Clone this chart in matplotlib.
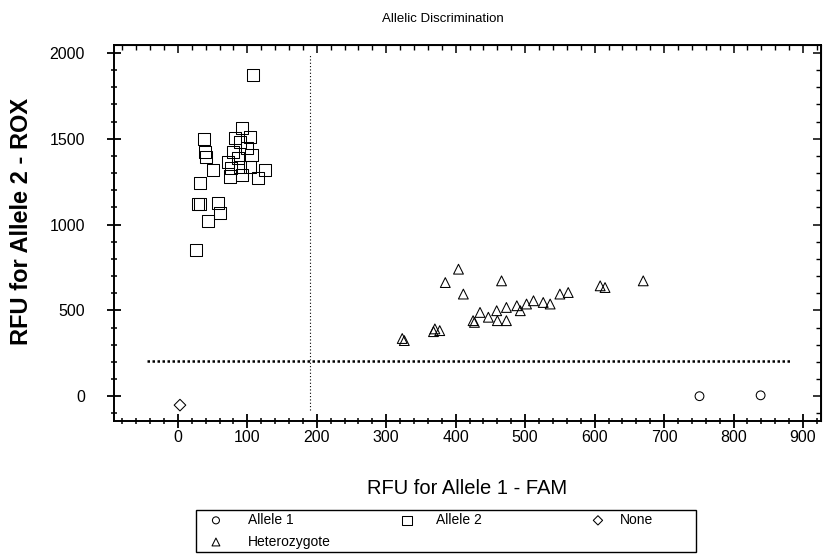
import matplotlib
matplotlib.use("Agg")
import matplotlib.pyplot as plt
from matplotlib.ticker import MultipleLocator
from matplotlib.patches import Rectangle

plt.rcParams['font.family'] = ['Liberation Sans', 'DejaVu Sans']

# Allele 1 (circles)
a1_x = [751, 839]
a1_y = [0, 5]

# Allele 2 (squares)
a2_x = [108, 93, 37, 104, 39, 82, 89, 80, 99, 106, 41, 72, 87, 51, 77, 89,
        104, 125, 75, 92, 116, 32, 32, 58, 60, 44, 26, 29]
a2_y = [1873, 1564, 1497, 1512, 1425, 1502, 1483, 1425, 1444, 1406, 1396,
        1367, 1386, 1319, 1328, 1338, 1338, 1319, 1280, 1290, 1271, 1242,
        1117, 1126, 1068, 1020, 852, 1117]

# None (diamond)
none_x = [3]
none_y = [-52]

# Heterozygote (triangles)
het_x = [326, 323, 370, 377, 368, 404, 385, 411, 466, 425, 435, 447, 459,
         473, 488, 493, 512, 526, 536, 550, 562, 608, 615, 670, 473, 460,
         427, 502]
het_y = [324, 336, 392, 382, 376, 740, 662, 595, 672, 440, 488, 460, 498,
         517, 527, 498, 556, 546, 537, 595, 604, 643, 633, 672, 440, 440,
         430, 537]

threshold_y = 205
threshold_x = [-45, 882]
cut_x = 190
cut_y = [-80, 1995]

fig = plt.figure(figsize=(8.26, 5.58), dpi=100)
ax = fig.add_axes([0.138, 0.246, 0.856, 0.673])

mk = dict(facecolor='none', edgecolor='black', linewidth=0.75)
p_a1 = ax.scatter(a1_x, a1_y, marker='o', s=40, **mk)
p_het = ax.scatter(het_x, het_y, marker='^', s=50, **mk)
p_a2 = ax.scatter(a2_x, a2_y, marker='s', s=75, **mk)
p_none = ax.scatter(none_x, none_y, marker='D', s=35, **mk)

ax.plot(threshold_x, [threshold_y, threshold_y], color='black',
        linestyle=(0, (1, 1)), linewidth=1.8)
ax.plot([cut_x, cut_x], cut_y, color='black', linestyle=(0, (1, 2)),
        linewidth=0.8)

ax.set_xlim(-92, 926)
ax.set_ylim(-143, 2045)
ax.xaxis.set_major_locator(MultipleLocator(100))
ax.xaxis.set_minor_locator(MultipleLocator(20))
ax.yaxis.set_major_locator(MultipleLocator(500))
ax.yaxis.set_minor_locator(MultipleLocator(100))
ax.tick_params(which='major', direction='inout', length=10, width=1.3,
               labelsize=11.5)
ax.tick_params(which='minor', direction='inout', length=5, width=1.1)
ax.tick_params(axis='x', pad=2)
ax.tick_params(axis='y', pad=16)

# ticks inside on top and right
top = ax.secondary_xaxis('top')
top.xaxis.set_major_locator(MultipleLocator(100))
top.xaxis.set_minor_locator(MultipleLocator(20))
top.tick_params(which='major', direction='in', length=6, width=1.1, labeltop=False)
top.tick_params(which='minor', direction='in', length=3.5, width=1.0)
right = ax.secondary_yaxis('right')
right.yaxis.set_major_locator(MultipleLocator(500))
right.yaxis.set_minor_locator(MultipleLocator(100))
right.tick_params(which='major', direction='in', length=6, width=1.1, labelright=False)
right.tick_params(which='minor', direction='in', length=3.5, width=1.0)

for sp in ax.spines.values():
    sp.set_linewidth(1.4)

ax.set_xlabel('RFU for Allele 1 - FAM', fontsize=14.5, labelpad=24)
ax.set_ylabel('RFU for Allele 2 - ROX', fontsize=17, fontweight='bold')
ax.yaxis.set_label_coords(-0.115, 0.53)
fig.text(0.536, 0.966, 'Allelic Discrimination', fontsize=9.5,
         ha='center', va='center')

# legend: frame box with three columns
fig.patches.append(Rectangle((196 / 826, 1 - 552 / 558), 500 / 826, 42 / 558,
                             transform=fig.transFigure, fill=False,
                             edgecolor='black', linewidth=1.0))
cols = [([p_a1, p_het], ['Allele 1', 'Heterozygote'], 209, 1.8),
        ([p_a2], ['Allele 2'], 400, 1.6),
        ([p_none], ['None'], 591, 1.1)]
for h, l, xpx, tp in cols:
    lg = fig.legend(h, l, loc='upper left',
                    bbox_to_anchor=(xpx / 826, 1 - 513 / 558),
                    fontsize=10, frameon=False, borderpad=0, borderaxespad=0,
                    handlelength=1.0, handletextpad=tp, labelspacing=0.55,
                    markerscale=0.8)

fig.savefig('out.png', dpi=100)
